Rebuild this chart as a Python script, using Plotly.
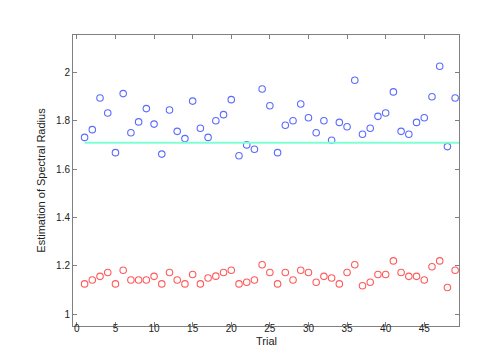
import plotly.graph_objects as go

trials = list(range(1, 50))

blue_est = [
    1.731, 1.763, 1.894, 1.832, 1.668, 1.912, 1.750, 1.795, 1.850, 1.786,
    1.662, 1.844, 1.756, 1.726, 1.881, 1.769, 1.731, 1.800, 1.825, 1.887,
    1.655, 1.700, 1.682, 1.931, 1.862, 1.668, 1.781, 1.800, 1.869, 1.812,
    1.750, 1.800, 1.719, 1.793, 1.775, 1.967, 1.744, 1.769, 1.818, 1.832,
    1.919, 1.756, 1.744, 1.793, 1.812, 1.899, 2.025, 1.693, 1.894,
]

red_est = [
    1.126, 1.142, 1.157, 1.173, 1.126, 1.182, 1.142, 1.142, 1.142, 1.157,
    1.126, 1.173, 1.142, 1.126, 1.165, 1.126, 1.150, 1.158, 1.173, 1.182,
    1.126, 1.133, 1.142, 1.205, 1.173, 1.126, 1.173, 1.142, 1.182, 1.173,
    1.133, 1.157, 1.150, 1.126, 1.173, 1.205, 1.118, 1.133, 1.165, 1.165,
    1.221, 1.173, 1.157, 1.157, 1.142, 1.197, 1.221, 1.111, 1.182,
]

ref_x = [1, 49.5]
ref_y = [1.709, 1.709]

x_ticks = [0, 5, 10, 15, 20, 25, 30, 35, 40, 45]
y_ticks = [1, 1.2, 1.4, 1.6, 1.8, 2]
y_labels = ["1", "1.2", "1.4", "1.6", "1.8", "2"]

font = "Liberation Sans, Arial, Helvetica, sans-serif"

fig = go.Figure()
fig.add_trace(go.Scatter(
    x=trials, y=blue_est, mode="markers",
    marker=dict(symbol="circle-open", size=6.5, color="#5a6bff", line=dict(width=1.1)),
    showlegend=False,
))
fig.add_trace(go.Scatter(
    x=trials, y=red_est, mode="markers",
    marker=dict(symbol="circle-open", size=6.5, color="#ff5a5a", line=dict(width=1.1)),
    showlegend=False,
))
fig.add_trace(go.Scatter(
    x=ref_x, y=ref_y, mode="lines",
    line=dict(color="#7fffd4", width=2),
    showlegend=False,
))

axis_common = dict(
    showgrid=False, zeroline=False,
    showline=True, linecolor="#808080", linewidth=1, mirror="ticks",
    ticks="inside", ticklen=4, tickcolor="#808080", tickwidth=1,
    tickfont=dict(family=font, size=10, color="#222"),
)

fig.update_layout(
    width=498, height=357, autosize=False,
    paper_bgcolor="white", plot_bgcolor="white",
    margin=dict(l=65, r=47, t=27, b=39),
    font=dict(family=font, size=10, color="#222"),
    xaxis=dict(
        range=[-0.5, 49.5], tickvals=x_ticks, ticklabelstandoff=-7,
        **axis_common,
    ),
    yaxis=dict(
        range=[0.952, 2.154], tickvals=y_ticks, ticktext=y_labels,
        title=dict(text="Estimation of Spectral Radius", font=dict(family=font, size=11), standoff=8),
        **axis_common,
    ),
)

# x label sits right under the tick labels, as in the original
fig.add_annotation(
    text="Trial", xref="paper", yref="paper", x=0.5, y=-0.05,
    xanchor="center", yanchor="middle", showarrow=False,
    font=dict(family=font, size=11, color="#222"),
)

fig.write_html("out.html")
